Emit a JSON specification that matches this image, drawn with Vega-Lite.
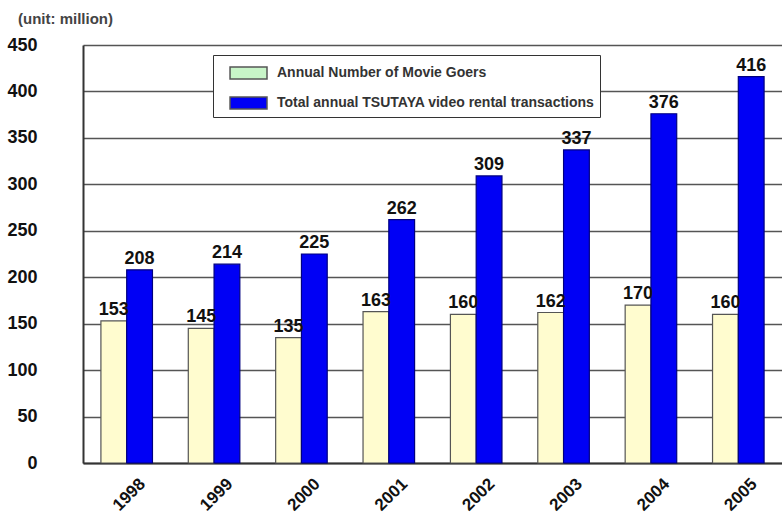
{
  "$schema": "https://vega.github.io/schema/vega-lite/v6.json",
  "width": 699,
  "height": 418,
  "autosize": {"type": "none"},
  "padding": {"left": 83, "top": 45, "right": 0, "bottom": 51},
  "background": "white",
  "config": {
    "font": "Liberation Sans",
    "view": {"stroke": null}
  },
  "title": {
    "text": "(unit: million)",
    "anchor": "start",
    "frame": "group",
    "dx": -65,
    "offset": 9,
    "fontSize": 15,
    "fontWeight": "bold",
    "color": "#444444"
  },
  "data": {
    "values": [
      {"year": "1998", "series": "Annual Number of Movie Goers", "value": 153},
      {"year": "1998", "series": "Total annual TSUTAYA video rental transactions", "value": 208},
      {"year": "1999", "series": "Annual Number of Movie Goers", "value": 145},
      {"year": "1999", "series": "Total annual TSUTAYA video rental transactions", "value": 214},
      {"year": "2000", "series": "Annual Number of Movie Goers", "value": 135},
      {"year": "2000", "series": "Total annual TSUTAYA video rental transactions", "value": 225},
      {"year": "2001", "series": "Annual Number of Movie Goers", "value": 163},
      {"year": "2001", "series": "Total annual TSUTAYA video rental transactions", "value": 262},
      {"year": "2002", "series": "Annual Number of Movie Goers", "value": 160},
      {"year": "2002", "series": "Total annual TSUTAYA video rental transactions", "value": 309},
      {"year": "2003", "series": "Annual Number of Movie Goers", "value": 162},
      {"year": "2003", "series": "Total annual TSUTAYA video rental transactions", "value": 337},
      {"year": "2004", "series": "Annual Number of Movie Goers", "value": 170},
      {"year": "2004", "series": "Total annual TSUTAYA video rental transactions", "value": 376},
      {"year": "2005", "series": "Annual Number of Movie Goers", "value": 160},
      {"year": "2005", "series": "Total annual TSUTAYA video rental transactions", "value": 416}
    ]
  },
  "encoding": {
    "x": {
      "field": "year",
      "type": "ordinal",
      "scale": {"paddingInner": 0.41, "paddingOuter": 0.205},
      "axis": {
        "title": null,
        "labelAngle": -45,
        "labelAlign": "right",
        "labelBaseline": "middle",
        "labelFontSize": 17,
        "labelFontWeight": "bold",
        "labelColor": "#111111",
        "labelOffset": 16,
        "labelPadding": 18,
        "ticks": false,
        "domainColor": "#333333",
        "domainWidth": 2,
        "grid": false
      }
    },
    "xOffset": {
      "field": "series",
      "type": "nominal",
      "scale": {"paddingInner": 0}
    },
    "y": {
      "field": "value",
      "type": "quantitative",
      "scale": {"domain": [0, 450], "nice": false},
      "axis": {
        "title": null,
        "values": [0, 50, 100, 150, 200, 250, 300, 350, 400, 450],
        "grid": true,
        "gridColor": "#555555",
        "gridWidth": 1.6,
        "ticks": false,
        "domainColor": "#333333",
        "domainWidth": 2,
        "labelPadding": 46,
        "labelFontSize": 18,
        "labelFontWeight": "bold",
        "labelColor": "#111111"
      }
    }
  },
  "layer": [
    {
      "mark": {"type": "bar", "strokeWidth": 1.2},
      "encoding": {
        "color": {
          "field": "series",
          "type": "nominal",
          "scale": {
            "domain": ["Annual Number of Movie Goers", "Total annual TSUTAYA video rental transactions"],
            "range": ["#FFFCCF", "#0000F5"]
          },
          "legend": null
        },
        "stroke": {
          "field": "series",
          "type": "nominal",
          "scale": {
            "domain": ["Annual Number of Movie Goers", "Total annual TSUTAYA video rental transactions"],
            "range": ["#555555", "#000080"]
          },
          "legend": null
        }
      }
    },
    {
      "mark": {
        "type": "text",
        "baseline": "bottom",
        "dy": -2,
        "fontSize": 18,
        "fontWeight": "bold",
        "color": "#111111"
      },
      "encoding": {
        "text": {"field": "value", "type": "quantitative"}
      }
    },
    {
      "mark": {"type": "point", "shape": "square", "filled": true, "size": 0},
      "encoding": {
        "color": {
          "field": "series",
          "type": "nominal",
          "scale": {
            "domain": ["Annual Number of Movie Goers", "Total annual TSUTAYA video rental transactions"],
            "range": ["#C8F5C8", "#0000F5"]
          },
          "legend": {
            "title": null,
            "orient": "none",
            "legendX": 130,
            "legendY": 10,
            "direction": "vertical",
            "padding": 5,
            "fillColor": "white",
            "strokeColor": "#333333",
            "symbolType": "M-0.08,-0.5H3V0.5H-0.08Z",
            "symbolSize": 576,
            "symbolOpacity": 1,
            "symbolStrokeColor": "#555555",
            "symbolStrokeWidth": 1.5,
            "labelOffset": 33,
            "labelFontSize": 14,
            "labelFontWeight": "bold",
            "labelColor": "#333333",
            "labelLimit": 500,
            "rowPadding": 8
          }
        }
      }
    }
  ],
  "resolve": {"scale": {"color": "independent"}, "legend": {"color": "independent"}}
}
